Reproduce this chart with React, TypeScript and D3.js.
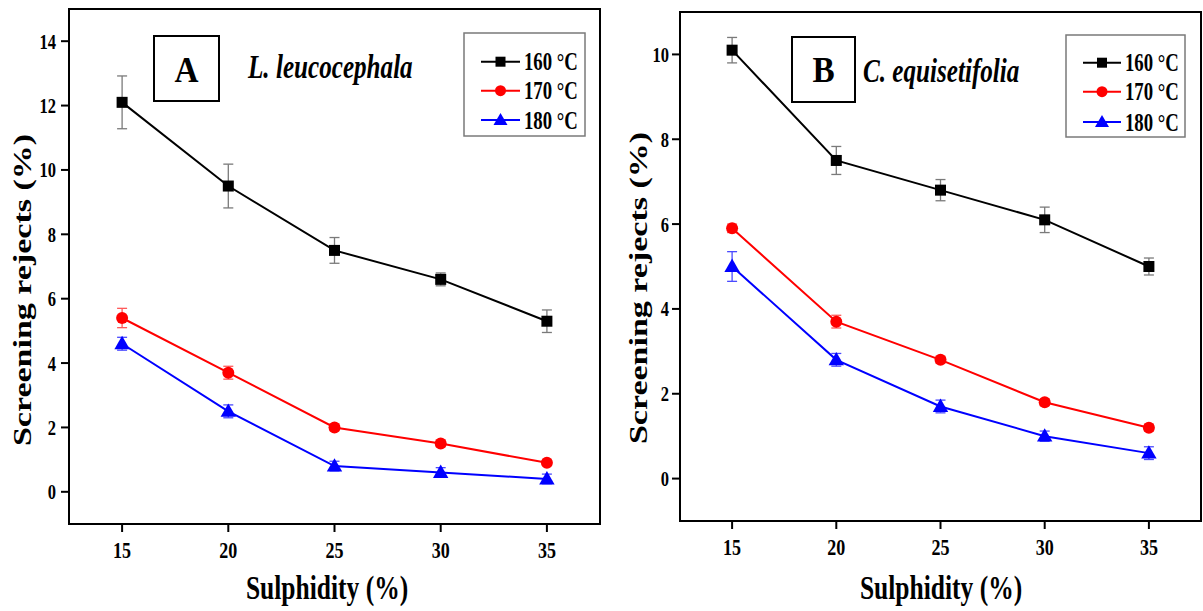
import React from "react";
import * as d3 from "d3";

// Sulphidity levels on the x axis (%)
const sulphidity = [15, 20, 25, 30, 35];
const seriesNames = ["160 °C", "170 °C", "180 °C"];
const seriesColors = ["#000000", "#ff0000", "#0000ff"];
const errorColors = ["#7a7a7a", "#ff5a5a", "#4a4aff"];
const seriesShapes = ["square", "circle", "triangle"];

// Panel A: L. leucocephala screening rejects (%)
const leuco160 = [12.1, 9.5, 7.5, 6.6, 5.3];
const leuco170 = [5.4, 3.7, 2.0, 1.5, 0.9];
const leuco180 = [4.6, 2.5, 0.8, 0.6, 0.4];
const leuco160Err = [0.82, 0.68, 0.4, 0.2, 0.35];
const leuco170Err = [0.3, 0.2, 0.1, 0.1, 0.08];
const leuco180Err = [0.2, 0.2, 0.15, 0.15, 0.15];

// Panel B: C. equisetifolia screening rejects (%)
const casu160 = [10.1, 7.5, 6.8, 6.1, 5.0];
const casu170 = [5.9, 3.7, 2.8, 1.8, 1.2];
const casu180 = [5.0, 2.8, 1.7, 1.0, 0.6];
const casu160Err = [0.3, 0.33, 0.25, 0.3, 0.2];
const casu170Err = [0.1, 0.15, 0.08, 0.08, 0.08];
const casu180Err = [0.35, 0.15, 0.15, 0.12, 0.15];

const xTicks = [15, 20, 25, 30, 35];
const yTicksA = [0, 2, 4, 6, 8, 10, 12, 14];
const yTicksB = [0, 2, 4, 6, 8, 10];

const FONT = "'Liberation Serif', 'Times New Roman', serif";
const SQUEEZE = 0.75;

type PanelProps = {
  frame: { left: number; right: number; top: number; bottom: number };
  yDomain: [number, number];
  yTicks: number[];
  values: number[][];
  errors: number[][];
  letter: string;
  letterBox: { x: number; y: number; w: number; h: number };
  letterBaseline: number;
  species: string;
  speciesX: number;
  speciesY: number;
  legend: { x: number; y: number; w: number; h: number; rows: number[]; lineX0: number; lineX1: number; textX: number };
  yTitleX: number;
  yTitleY: number;
  xTitleX: number;
  yLabelGap: number;
};

function Marker({ shape, x, y, color, size }: { shape: string; x: number; y: number; color: string; size: number }) {
  if (shape === "square") {
    return <rect x={x - size / 2} y={y - size / 2} width={size} height={size} fill={color} />;
  }
  if (shape === "circle") {
    return <circle cx={x} cy={y} r={size / 2 + 0.5} fill={color} />;
  }
  const sym = d3.symbol().type(d3.symbolTriangle).size(size * size * 0.85)();
  return <path d={sym || ""} transform={`translate(${x},${y + 1})`} fill={color} />;
}

function SText(props: { x: number; y: number; size: number; anchor?: string; italic?: boolean; squeeze?: number; rotate?: number; children: React.ReactNode }) {
  const sq = props.squeeze ?? SQUEEZE;
  const rot = props.rotate ? ` rotate(${props.rotate})` : "";
  return (
    <text
      transform={`translate(${props.x},${props.y}) scale(${sq},1)${rot}`}
      fontFamily={FONT}
      fontWeight="bold"
      fontStyle={props.italic ? "italic" : "normal"}
      fontSize={props.size}
      textAnchor={props.anchor || "start"}
      fill="#000"
    >
      {props.children}
    </text>
  );
}

function Panel(p: PanelProps) {
  const { frame } = p;
  const x = d3.scaleLinear().domain([12.5, 37.5]).range([frame.left, frame.right]);
  const y = d3.scaleLinear().domain(p.yDomain).range([frame.bottom, frame.top]);
  const line = d3
    .line<number>()
    .x((_, i) => x(sulphidity[i]))
    .y((d) => y(d));

  return (
    <g>
      {/* error bars */}
      {p.values.map((vals, si) =>
        vals.map((v, i) => {
          const cx = x(sulphidity[i]);
          const y0 = y(v - p.errors[si][i]);
          const y1 = y(v + p.errors[si][i]);
          return (
            <g key={`e${si}-${i}`} stroke={errorColors[si]} strokeWidth={1.3}>
              <line x1={cx} x2={cx} y1={y0} y2={y1} />
              <line x1={cx - 5} x2={cx + 5} y1={y0} y2={y0} />
              <line x1={cx - 5} x2={cx + 5} y1={y1} y2={y1} />
            </g>
          );
        })
      )}
      {/* series lines */}
      {p.values.map((vals, si) => (
        <path key={`l${si}`} d={line(vals) || ""} fill="none" stroke={seriesColors[si]} strokeWidth={2} />
      ))}
      {/* markers */}
      {p.values.map((vals, si) =>
        vals.map((v, i) => (
          <Marker key={`m${si}-${i}`} shape={seriesShapes[si]} x={x(sulphidity[i])} y={y(v)} color={seriesColors[si]} size={11} />
        ))
      )}

      {/* frame */}
      <rect
        x={frame.left}
        y={frame.top}
        width={frame.right - frame.left}
        height={frame.bottom - frame.top}
        fill="none"
        stroke="#000"
        strokeWidth={2}
      />

      {/* y axis ticks and labels */}
      {p.yTicks.map((t) => (
        <g key={`yt${t}`}>
          <line x1={frame.left - 8} x2={frame.left} y1={y(t)} y2={y(t)} stroke="#000" strokeWidth={2} />
          <SText x={frame.left - p.yLabelGap} y={y(t) + 7.5} size={22} anchor="end">
            {t}
          </SText>
        </g>
      ))}

      {/* x axis ticks and labels */}
      {xTicks.map((t) => (
        <g key={`xt${t}`}>
          <line x1={x(t)} x2={x(t)} y1={frame.bottom} y2={frame.bottom + 8} stroke="#000" strokeWidth={2} />
          <SText x={x(t)} y={frame.bottom + 34} size={24} anchor="middle">
            {t}
          </SText>
        </g>
      ))}

      {/* axis titles */}
      <SText x={p.xTitleX} y={599} size={34} anchor="middle">
        Sulphidity (%)
      </SText>
      <SText x={p.yTitleX} y={p.yTitleY} size={34} anchor="middle" rotate={-90}>
        Screening rejects (%)
      </SText>

      {/* panel letter and species name */}
      <rect
        x={p.letterBox.x}
        y={p.letterBox.y}
        width={p.letterBox.w}
        height={p.letterBox.h}
        fill="#fff"
        stroke="#000"
        strokeWidth={2}
      />
      <SText x={p.letterBox.x + p.letterBox.w / 2} y={p.letterBaseline} size={35} anchor="middle" squeeze={0.95}>
        {p.letter}
      </SText>
      <SText x={p.speciesX} y={p.speciesY} size={33.5} italic>
        {p.species}
      </SText>

      {/* legend */}
      <rect x={p.legend.x} y={p.legend.y} width={p.legend.w} height={p.legend.h} fill="#fff" stroke="#7a7a7a" strokeWidth={1.5} />
      {seriesNames.map((name, si) => {
        const ry = p.legend.rows[si];
        const mx = (p.legend.lineX0 + p.legend.lineX1) / 2;
        return (
          <g key={`lg${si}`}>
            <line x1={p.legend.lineX0} x2={p.legend.lineX1} y1={ry} y2={ry} stroke={seriesColors[si]} strokeWidth={2} />
            <Marker shape={seriesShapes[si]} x={mx} y={ry} color={seriesColors[si]} size={10} />
            <SText x={p.legend.textX} y={ry + 8.5} size={25}>
              {name}
            </SText>
          </g>
        );
      })}
    </g>
  );
}

export default function App() {
  return (
    <div style={{ position: "fixed", left: 0, top: 0 }}>
      <svg width={1203} height={611} style={{ display: "block", background: "#fff" }}>
        <Panel
          frame={{ left: 69, right: 600, top: 9, bottom: 524 }}
          yDomain={[-1, 15]}
          yTicks={yTicksA}
          values={[leuco160, leuco170, leuco180]}
          errors={[leuco160Err, leuco170Err, leuco180Err]}
          letter="A"
          letterBox={{ x: 154, y: 36, w: 65, h: 65 }}
          letterBaseline={82}
          species="L. leucocephala"
          speciesX={248}
          speciesY={78}
          legend={{ x: 464, y: 33, w: 121, h: 103, rows: [61.7, 90.7, 120], lineX0: 481, lineX1: 520, textX: 524 }}
          yTitleX={31}
          yTitleY={290}
          xTitleX={327}
          yLabelGap={13}
        />
        <Panel
          frame={{ left: 680, right: 1201, top: 12, bottom: 521 }}
          yDomain={[-1, 11]}
          yTicks={yTicksB}
          values={[casu160, casu170, casu180]}
          errors={[casu160Err, casu170Err, casu180Err]}
          letter="B"
          letterBox={{ x: 792, y: 37, w: 63, h: 65 }}
          letterBaseline={82}
          species="C. equisetifolia"
          speciesX={863}
          speciesY={82}
          legend={{ x: 1066, y: 35, w: 119, h: 102, rows: [62.7, 91.7, 122], lineX0: 1083, lineX1: 1121, textX: 1125 }}
          yTitleX={647}
          yTitleY={288}
          xTitleX={941}
          yLabelGap={11}
        />
      </svg>
    </div>
  );
}
